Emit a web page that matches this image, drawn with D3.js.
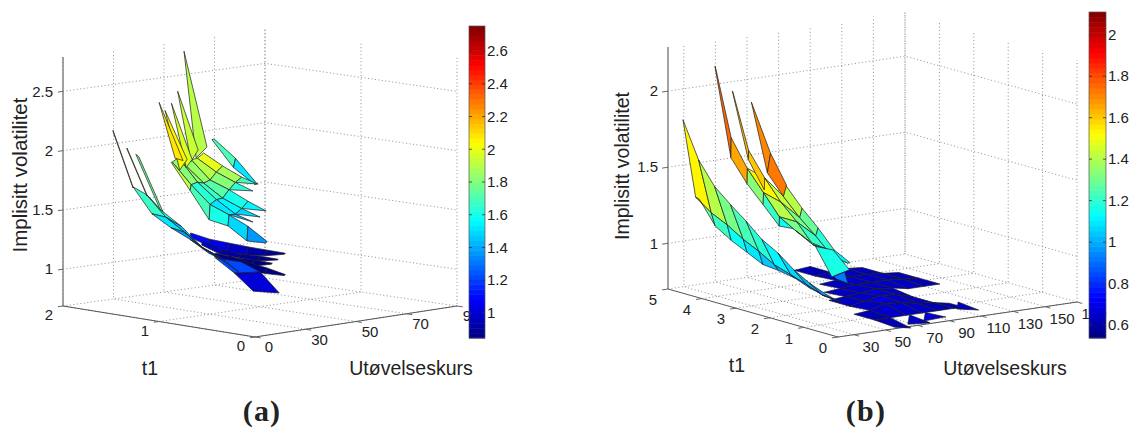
<!DOCTYPE html>
<html>
<head>
<meta charset="utf-8">
<script src="https://cdn.jsdelivr.net/npm/d3@7"></script>
<style>
  html, body { margin: 0; padding: 0; background: #fff; }
  svg { display: block; }
  text { font-family: "Liberation Sans", Arial, sans-serif; fill: #222; }
</style>
</head>
<body>
<svg></svg>
<script>
const svgWidth = 1135
const svgHeight = 428
const __ = null

// ---------- tick labels ----------
const kTicksA = [10, 30, 50, 70, 90]
const kLabelsA = ["0", "30", "50", "70", "90"]
const tTicksA = [0, 1, 2]
const zTicksA = [1, 1.5, 2, 2.5]
const cTicksA = [1, 1.2, 1.4, 1.6, 1.8, 2, 2.2, 2.4, 2.6]

const kTicksB = [30, 50, 70, 90, 110, 130, 150, 170]
const kLabelsB = ["30", "50", "70", "90", "110", "130", "150", "170"]
const tTicksB = [0, 1, 2, 3, 4, 5]
const zTicksB = [1, 1.5, 2]
const cTicksB = [0.6, 0.8, 1, 1.2, 1.4, 1.6, 1.8, 2]

// ---------- panel (a), values ----------
const kBladeA = [51, 59.5, 68]
const tBladeA = [1.505, 1.526]
const volBladeA = [
  [2.04, 1.85, 1.61],
  [2.03, 1.77, 1.60]
]

const kFanA = [38.5, 46, 53.5, 61, 68.5, 76]
const tFanA = [1.42, 1.43, 1.45, 1.493, 1.503, 1.52, 1.555, 1.566, 1.5, 1.42, 1.43]
const volFanA = [
  [1.295, 1.22, 1.165, 1.11, 1.06, 1.01],
  [1.26, 1.16, 1.09, 1.04, 1.01, 1.00],
  [__, __, __, __, __, __],
  [__, 1.195, 1.10, 1.04, 1.00, 0.95],
  [__, 1.16, 1.06, 1.005, 0.957, 0.943],
  [__, __, __, __, __, __],
  [__, __, 1.064, 1.0, 0.96, 0.91],
  [__, __, 1.03, 0.955, 0.907, 0.90],
  [__, __, __, __, __, __],
  [__, __, 1.06, 0.98, 0.91, 0.83],
  [__, __, 1.00, 0.91, 0.86, 0.82]
]

const kLowA = [12.2, 19.7, 27.2]
const tLowA = [0.2, 0.47]
const volLowA = [
  [1.29, 1.18, 0.98],
  [1.288, 1.137, 0.96]
]

const kRearA = [22, 29.5, 37, 44.5]
const tRearA = [0.85, 0.916, 0.981, 1.047, 1.112, 1.178]
const volRearA = [
  [2.093, 1.96, 1.843, __],
  [2.04, 1.90, 1.79, __],
  [2.02, 1.825, 1.72, 1.60],
  [1.97, 1.79, 1.64, 1.53],
  [2.02, 1.79, 1.62, 1.475],
  [1.975, 1.76, 1.57, 1.46]
]

// each rear strip: tip, right foot and left foot of the long thin cell
const tStripA = [0.85, 0.916, 0.981, 1.047, 1.112]
const kStripA = [
  [14.2, 23.3, 19],
  [14.2, 22.3, 19.5],
  [14.2, 22.4, 20],
  [14.2, 22.9, 20],
  [14.3, 23.8, 20.6]
]
const volStripA = [
  [2.976, 2.14, 2.06],
  [2.63, 2.11, 2.02],
  [2.52, 2.02, 1.96],
  [2.45, 2.01, 1.93],
  [2.51, 1.99, 2.02]
]
const shiftStripA = [-0.2, -0.12, -0.03, 0.08, 0.07]

// right-hand spikes of the rear cluster: upper row, lower row, foot K, tip K (two rows), values
const tSpikeA = [[0.85, 0.916], [0.916, 0.981], [0.981, 1.047], [1.047, 1.112], [1.112, 1.178]]
const kSpikeA = [[37, 43.5, 46], [37, 44, 46.5], [44.5, 51.7, 54.2], [44.5, 51.8, 54.3], [44.5, 51.5, 54]]
const volSpikeA = [
  [[1.843, 1.763], [1.79, 1.748]],
  [[1.79, 1.695], [1.72, 1.68]],
  [[1.60, 1.494], [1.53, 1.48]],
  [[1.53, 1.435], [1.475, 1.42]],
  [[1.475, 1.386], [1.46, 1.37]]
]
const shiftSpikeA = [-0.05, -0.05, 0.05, 0.05, 0.05]

const kEdgeA = [22, 29.5, 37, 44.5, 52, 59.5]
const tEdgeA = [1.178, 1.188]
const volEdgeA = [
  [1.975, 1.76, 1.57, 1.46, 1.34, 1.19],
  [1.97, 1.71, 1.44, 1.365, 1.215, 1.175]
]

const kRibbonA = [22.5, 30, 37.5, 45, 52.5, 60]
const tRibbonA = [1.6, 1.454, 1.2875]
const volRibbonA = [
  [1.71, 1.46, 1.32, 1.20, 1.06, 0.94],
  [1.66, 1.45, 1.30, 1.14, 1.02, __],
  [1.54, 1.39, 1.20, 1.09, 0.94, __]
]

const kTipA = [14.6, 22.5]
const tTipA = [1.6, 1.6, 1.5, 1.454, 1.454]
const volTipA = [
  [2.21, 1.71],
  [2.20, 1.70],
  [__, __],
  [2.08, 1.66],
  [2.07, 1.65]
]

const kTipA2 = [13, 22.5]
const tTipA2 = [1.2875, 1.32]
const volTipA2 = [
  [2.03, 1.54],
  [2.05, 1.56]
]

// ---------- panel (b), values ----------
const kFanB = [60, 70, 80, 90, 100, 110, 120, 130, 140]
const tFanB = [5, 4.4, 3.8, 3.2, 2.6, 2, 1.4, 0.8, 0.2]
const volFanB = [
  [__, __, __, __, 0.70, 0.71, __, __, __],
  [__, __, __, __, 0.70, 0.71, 0.72, 0.71, __],
  [__, __, __, 0.70, 0.71, 0.72, 0.72, 0.71, 0.70],
  [__, __, 0.70, 0.71, 0.72, 0.72, 0.72, 0.71, 0.70],
  [__, 0.70, 0.71, 0.72, 0.73, 0.72, 0.70, 0.70, 0.70],
  [__, 0.70, 0.72, 0.74, 0.73, 0.70, __, __, __],
  [0.70, 0.71, 0.74, 0.73, 0.71, 0.70, 0.68, __, __],
  [0.70, 0.70, 0.70, 0.70, 0.70, 0.70, 0.68, __, __],
  [0.69, 0.67, __, __, __, __, __, __, __]
]

const kSpikeB = [81, 82, 86, 91, 92]
const tSpikeB = [0.8, 0.2]
const volSpikeB = [
  [0.64, 0.70, __, 0.645, 0.70],
  [0.686, 0.686, __, 0.71, 0.708]
]

const kSpikeB2 = [125, 125.5]
const tSpikeB2 = [1.4, 0.8]
const volSpikeB2 = [
  [0.635, 0.68],
  [0.666, 0.665]
]

const kBandB = [20, 20.2]
const kRearB = [20.2, 31.2, 43, 44.5]
const tRearB = [2.68, 2.2, 1.73, 1.26, 0.79]
const volBandB = [
  [1.54, 1.64],
  [1.43, 1.51],
  [1.32, 1.38],
  [1.33, 1.32],
  [1.27, 1.27]
]
const volRearB = [
  [1.64, 1.56, 1.42, 1.49],
  [1.51, 1.43, 1.31, 1.37],
  [1.38, 1.33, 1.22, 1.27],
  [1.32, 1.21, 1.12, 1.155],
  [1.27, 1.205, 1.10, 1.10]
]

const kTipB = [20, 20.2, 25, 31, 31.2]
const tTipB = [3.62, 3.15]
const volTipB = [
  [2.25, 2.25, __, 2.07, 2.07],
  [1.68, 1.81, __, 1.65, 1.71]
]
const tTipLowB = [3.15, 2.68]
const volTipLowB = [
  [1.68, 1.81, __, 1.65, 1.71],
  [1.54, 1.64, __, 1.48, 1.56]
]

const kStrip3B = [[43, 43], [43, 45], [43, 45]]
const tStrip3B = [3.62, 3.15, 2.68]
const volStrip3B = [
  [1.98, 1.98],
  [1.545, 1.67],
  [1.42, 1.49]
]

const kFunnelB = [23, 34]
const tFunnelB = [0.8, 0.32]
const volFunnelB = [
  [1.24, 1.20],
  [1.07, 1.10]
]

const kNoseB = [24, 31]
const tNoseB = [0.32, 0.22]
const volNoseB = [
  [1.07, 1.09],
  [1.06, 1.02]
]

const kFrontB = [20, 28, 30.5]
const tFrontB = [4.56, 4.1, 3.63, 3.16, 2.7, 2.24, 1.76, 1.3, 0.83, 0.37]
const volFrontB = [
  [1.84, 1.32, 1.30],
  [1.605, 1.245, 1.155],
  [1.46, 1.195, 1.09],
  [1.37, 1.13, 1.04],
  [1.29, 1.08, 0.99],
  [1.20, 1.02, 0.98],
  [1.14, 0.985, 0.96],
  [1.06, 0.95, 0.92],
  [1.00, 0.91, 0.90],
  [0.96, 0.90, 0.89]
]

// ---------- drawing ----------
const svg = d3.select("svg")
  .attr("width", svgWidth)
  .attr("height", svgHeight)

function jet(i, n) {
  const f = (i + 0.5) / n
  const c = (d) => Math.round(255 * Math.max(0, Math.min(1, 1.5 - Math.abs(4 * f - d))))
  return `rgb(${c(3)},${c(2)},${c(1)})`
}
const jet64 = d3.range(64).map((i) => jet(i, 64))

function drawPanel(p) {
  const g = svg.append("g")
  const uScale = d3.scaleLinear().domain(p.kDomain).range([0, 1])
  const vScale = d3.scaleLinear().domain([0, p.tMax]).range([0, 1])
  const zScale = d3.scaleLinear().domain(p.zDomain).range([0, -p.zHeight])
  const colorScale = d3.scaleQuantize().domain(p.cDomain).range(jet64)
  const [kLow, kHigh] = p.kDomain

  const project = (k, t, z) => {
    const u = uScale(k)
    const v = vScale(t)
    const blend = (a) => a.front * (1 - u) * (1 - v) + a.right * u * (1 - v) + a.left * (1 - u) * v + a.back * u * v
    return [blend(p.floorX), blend(p.floorY) + zScale(z)]
  }
  const polyline = d3.line()
  const zLow = p.zDomain[0]
  const zHigh = p.zDomain[1]

  const dotted = (pts) => g.append("path")
    .attr("d", polyline(pts))
    .attr("fill", "none")
    .attr("stroke", "#8f8f8f")
    .attr("stroke-width", 1)
    .attr("stroke-dasharray", "1 2.5")
  const solid = (pts, color, width) => g.append("path")
    .attr("d", polyline(pts))
    .attr("fill", "none")
    .attr("stroke", color)
    .attr("stroke-width", width)

  // grid on walls and floor
  p.kTicks.forEach((k) => {
    dotted([project(k, 0, zLow), project(k, p.tMax, zLow), project(k, p.tMax, zHigh)])
  })
  p.tTicks.forEach((t) => {
    dotted([project(kLow, t, zLow), project(kHigh, t, zLow), project(kHigh, t, zHigh)])
  })
  p.zTicks.forEach((z) => {
    dotted([project(kLow, p.tMax, z), project(kHigh, p.tMax, z), project(kHigh, 0, z)])
  })

  // axes
  solid([project(kLow, p.tMax, zLow), project(kLow, p.tMax, zHigh)], "#8c8c8c", 1.6)
  solid([project(kLow, p.tMax, zLow), project(kLow, 0, zLow)], "#555", 1)
  solid([project(kLow, 0, zLow), project(kHigh, 0, zLow)], "#555", 1)

  const kPad = (kHigh - kLow) * 0.025
  const tPad = p.tMax * 0.03
  p.kTicks.forEach((k, i) => {
    solid([project(k, 0, zLow), project(k, -tPad, zLow)], "#666", 1)
    const [x, y] = project(k, 0, zLow)
    g.append("text").text(p.kLabels[i])
      .attr("x", x + p.kLabelOffset[0]).attr("y", y + p.kLabelOffset[1])
      .attr("text-anchor", "middle").attr("dy", "0.35em").attr("font-size", 15)
  })
  p.tTicks.forEach((t) => {
    solid([project(kLow, t, zLow), project(kLow - kPad, t, zLow)], "#666", 1)
    const [x, y] = project(kLow, t, zLow)
    g.append("text").text(t)
      .attr("x", x + p.tLabelOffset[0]).attr("y", y + p.tLabelOffset[1])
      .attr("text-anchor", "middle").attr("dy", "0.35em").attr("font-size", 15)
  })
  p.zTicks.forEach((z) => {
    const [x, y] = project(kLow, p.tMax, z)
    solid([[x, y], project(kLow - kPad, p.tMax, z)], "#666", 1)
    g.append("text").text(z)
      .attr("x", x - 10).attr("y", y)
      .attr("text-anchor", "end").attr("dy", "0.35em").attr("font-size", 15)
  })

  // surface sheets, back to front. k is one list, or one list per row
  p.sheets.forEach((s) => {
    const cells = []
    const kOf = (i) => (Array.isArray(s.k[0]) ? s.k[i] : s.k)
    for (let i = 0; i < s.t.length - 1; i++) {
      for (let j = 0; j < kOf(i).length - 1; j++) {
        const a = s.vol[i][j]
        const b = s.vol[i][j + 1]
        const c = s.vol[i + 1][j + 1]
        const d = s.vol[i + 1][j]
        if (a === null || b === null || c === null || d === null) continue
        cells.push({
          pts: [
            project(kOf(i)[j], s.t[i], a),
            project(kOf(i)[j + 1], s.t[i], b),
            project(kOf(i + 1)[j + 1], s.t[i + 1], c),
            project(kOf(i + 1)[j], s.t[i + 1], d)
          ],
          value: p.cellValue(a, b, c, d) + (s.shift || 0)
        })
      }
    }
    g.append("g").selectAll("path")
      .data(cells)
      .join("path")
      .attr("d", (d) => polyline(d.pts) + "Z")
      .attr("fill", (d) => colorScale(d.value))
      .attr("stroke", "#1c1c1c")
      .attr("stroke-width", 0.7)
      .attr("stroke-linejoin", "round")
  })

  // colour bar goes over the last axis label, as in the picture
  const barScale = d3.scaleLinear().domain(p.cDomain).range([p.bar.bottom, p.bar.top])
  const bandH = (p.bar.bottom - p.bar.top) / 64
  g.append("g").selectAll("rect")
    .data(jet64)
    .join("rect")
    .attr("x", p.bar.left)
    .attr("width", p.bar.width)
    .attr("y", (d, i) => p.bar.bottom - (i + 1) * bandH)
    .attr("height", bandH + 0.5)
    .attr("fill", (d) => d)
  g.append("rect")
    .attr("x", p.bar.left).attr("y", p.bar.top)
    .attr("width", p.bar.width).attr("height", p.bar.bottom - p.bar.top)
    .attr("fill", "none").attr("stroke", "#555").attr("stroke-width", 0.7)
  p.cTicks.forEach((c) => {
    const y = barScale(c)
    solid([[p.bar.left, y], [p.bar.left + 3, y]], "#333", 0.8)
    solid([[p.bar.left + p.bar.width - 3, y], [p.bar.left + p.bar.width, y]], "#333", 0.8)
    g.append("text").text(d3.format("~g")(c))
      .attr("x", p.bar.left + p.bar.width + 2).attr("y", y)
      .attr("dy", "0.35em").attr("font-size", 15)
  })

  // titles
  g.append("text").text("Implisitt volatilitet")
    .attr("transform", `translate(${p.zLabel[0]},${p.zLabel[1]}) rotate(-90)`)
    .attr("text-anchor", "middle").attr("dy", "0.35em").attr("font-size", p.zLabelSize)
  g.append("text").text("t1")
    .attr("x", p.tLabel[0]).attr("y", p.tLabel[1])
    .attr("text-anchor", "middle").attr("dy", "0.35em").attr("font-size", 19.5)
  g.append("text").text("Utøvelseskurs")
    .attr("x", p.kLabel[0]).attr("y", p.kLabel[1])
    .attr("text-anchor", "middle").attr("dy", "0.35em").attr("font-size", 19.5)
  g.append("text").text(p.caption)
    .attr("x", p.captionAt[0]).attr("y", p.captionAt[1])
    .attr("text-anchor", "middle").attr("dy", "0.35em")
    .style("font-family", "'Liberation Serif', serif")
    .attr("font-weight", "bold").attr("font-size", 30).attr("letter-spacing", 1.2)
}

const stripSheetsA = tStripA.map((t, i) => ({
  k: [[kStripA[i][0], kStripA[i][1]], [kStripA[i][0], kStripA[i][2]]],
  t: [t, t],
  vol: [[volStripA[i][0], volStripA[i][1]], [volStripA[i][0], volStripA[i][2]]],
  shift: shiftStripA[i]
}))
const spikeSheetsA = tSpikeA.map((t, i) => ({
  k: [[kSpikeA[i][0], kSpikeA[i][1]], [kSpikeA[i][0], kSpikeA[i][2]]],
  t: t,
  vol: volSpikeA[i],
  shift: shiftSpikeA[i]
}))

drawPanel({
  kDomain: [10, 90], tMax: 2, zDomain: [0.69, 2.79], zHeight: 249,
  floorX: { front: 255, right: 457, left: 63, back: 265 },
  floorY: { front: 337, right: 306, left: 306, back: 278 },
  kTicks: kTicksA, kLabels: kLabelsA, tTicks: tTicksA, zTicks: zTicksA, cTicks: cTicksA,
  kLabelOffset: [14, 10], tLabelOffset: [-14, 9],
  cDomain: [0.847, 2.753],
  bar: { left: 469, width: 16, top: 26, bottom: 338 },
  zLabel: [20, 175], zLabelSize: 20.5, tLabel: [150, 368], kLabel: [411, 368],
  caption: "(a)", captionAt: [262, 410],
  cellValue: (a, b, c) => (b + c) / 2,
  sheets: [
    { k: kBladeA, t: tBladeA, vol: volBladeA, shift: -0.1 },
    { k: kFanA, t: tFanA, vol: volFanA, shift: -0.1 },
    { k: kLowA, t: tLowA, vol: volLowA, shift: 0.05 },
    ...spikeSheetsA,
    { k: kRearA, t: tRearA, vol: volRearA, shift: 0.05 },
    { k: kEdgeA, t: tEdgeA, vol: volEdgeA, shift: 0.2 },
    ...stripSheetsA,
    { k: kRibbonA, t: tRibbonA, vol: volRibbonA, shift: 0.2 },
    { k: kTipA, t: tTipA, vol: volTipA, shift: 0.2 },
    { k: kTipA2, t: tTipA2, vol: volTipA2, shift: 0.2 }
  ]
})

drawPanel({
  kDomain: [20, 170], tMax: 5, zDomain: [0.70, 2.29], zHeight: 242,
  floorX: { front: 838, right: 1077, left: 668, back: 905 },
  floorY: { front: 337, right: 302, left: 289, back: 254 },
  kTicks: kTicksB, kLabels: kLabelsB, tTicks: tTicksB, zTicks: zTicksB, cTicks: cTicksB,
  kLabelOffset: [17, 12], tLabelOffset: [-15, 11],
  cDomain: [0.537, 2.11],
  bar: { left: 1089, width: 17, top: 12, bottom: 338 },
  zLabel: [622, 166], zLabelSize: 19.6, tLabel: [737, 365], kLabel: [1005, 368],
  caption: "(b)", captionAt: [866, 410],
  cellValue: (a, b, c, d) => (a + b + c + d) / 4,
  sheets: [
    { k: kFanB, t: tFanB, vol: volFanB, shift: -0.07 },
    { k: kSpikeB, t: tSpikeB, vol: volSpikeB, shift: -0.03 },
    { k: kSpikeB2, t: tSpikeB2, vol: volSpikeB2, shift: -0.02 },
    { k: kBandB, t: tRearB, vol: volBandB, shift: -0.2 },
    { k: kRearB, t: tRearB, vol: volRearB },
    { k: kTipB, t: tTipB, vol: volTipB, shift: -0.25 },
    { k: kTipB, t: tTipLowB, vol: volTipLowB },
    { k: kStrip3B.slice(0, 2), t: tStrip3B.slice(0, 2), vol: volStrip3B.slice(0, 2), shift: -0.1 },
    { k: kStrip3B.slice(1), t: tStrip3B.slice(1), vol: volStrip3B.slice(1), shift: 0.2 },
    { k: kFunnelB, t: tFunnelB, vol: volFunnelB },
    { k: kNoseB, t: tNoseB, vol: volNoseB, shift: -0.15 },
    { k: kFrontB, t: tFrontB, vol: volFrontB, shift: 0.03 }
  ]
})
</script>
</body>
</html>
